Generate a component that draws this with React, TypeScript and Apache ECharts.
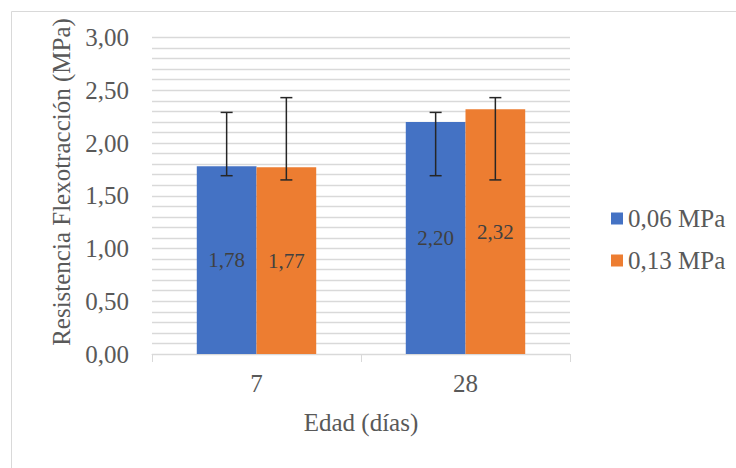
import React, { useEffect, useRef } from 'react';
import * as echarts from 'echarts';

const categories = ['7', '28'];
const seriesNames = ['0,06 MPa', '0,13 MPa'];
const values006 = [1.78, 2.2];
const values013 = [1.77, 2.32];
const errLow006 = [1.69, 1.69];
const errHigh006 = [2.29, 2.29];
const errLow013 = [1.65, 1.65];
const errHigh013 = [2.43, 2.43];
const yMin = 0;
const yMax = 3;
const yInterval = 0.5;
const xTitle = 'Edad (días)';
const yTitle = 'Resistencia Flexotracción (MPa)';

const FONT = '"Liberation Serif", "Times New Roman", serif';
const BLUE = '#4472C4';
const ORANGE = '#ED7D31';
const GRID = '#d9d9d9';
const TEXT = '#595959';

const fmt = (v: number) => v.toFixed(2).replace('.', ',');

const makeErr = (side: number, low: number[], high: number[]) => ({
  type: 'custom',
  name: 'err' + side,
  z: 10,
  data: categories.map((_, i) => [i, low[i], high[i]]),
  encode: { x: 0, y: [1, 2] },
  renderItem: (params: any, api: any) => {
    const cat = api.value(0);
    const lo = api.coord([cat, api.value(1)]);
    const hi = api.coord([cat, api.value(2)]);
    const catW = api.size([1, 0])[0];
    const barW = catW / 3.5;
    const x = lo[0] + side * barW / 2;
    const cap = 6;
    const style = { stroke: '#262626', lineWidth: 1.5 };
    return {
      type: 'group',
      children: [
        { type: 'line', shape: { x1: x, y1: hi[1], x2: x, y2: lo[1] }, style },
        { type: 'line', shape: { x1: x - cap, y1: hi[1], x2: x + cap, y2: hi[1] }, style },
        { type: 'line', shape: { x1: x - cap, y1: lo[1], x2: x + cap, y2: lo[1] }, style },
      ],
    };
  },
});

export default function App() {
  const ref = useRef<HTMLDivElement>(null);
  useEffect(() => {
    if (!ref.current) return;
    const chart = echarts.init(ref.current, undefined, { renderer: 'svg' });
    const barLabel = {
      show: true,
      position: 'inside',
      fontFamily: FONT,
      fontSize: 21,
      color: '#404040',
      formatter: (p: any) => fmt(p.value),
    };
    chart.setOption({
      animation: false,
      backgroundColor: '#ffffff',
      textStyle: { fontFamily: FONT },
      grid: { left: 152, right: 166, top: 37.5, bottom: 114, containLabel: false },
      legend: {
        data: seriesNames,
        orient: 'vertical',
        left: 611,
        top: 206,
        padding: 0,
        itemWidth: 12,
        itemHeight: 12,
        itemGap: 17,
        icon: 'rect',
        textStyle: { fontFamily: FONT, fontSize: 25, color: TEXT, lineHeight: 25 },
      },
      xAxis: {
        type: 'category',
        data: categories,
        name: xTitle,
        nameLocation: 'middle',
        nameGap: 56,
        nameTextStyle: { fontFamily: FONT, fontSize: 25, color: TEXT },
        axisLine: { lineStyle: { color: GRID, width: 1 } },
        axisTick: { show: true, length: 8, lineStyle: { color: GRID } },
        axisLabel: { fontFamily: FONT, fontSize: 25, color: TEXT, margin: 17 },
      },
      yAxis: {
        type: 'value',
        min: yMin,
        max: yMax,
        interval: yInterval,
        axisLine: { show: false },
        axisTick: { show: false },
        minorTick: { show: false, splitNumber: 5 },
        minorSplitLine: { show: true, lineStyle: { color: GRID, width: 1.3 } },
        splitLine: { show: true, lineStyle: { color: GRID, width: 1.3 } },
        axisLabel: {
          fontFamily: FONT,
          fontSize: 25,
          color: TEXT,
          margin: 23,
          formatter: (v: number) => fmt(v),
        },
      },
      graphic: [
        {
          type: 'rect',
          silent: true,
          shape: { x: 11.5, y: 11.5, width: 900, height: 700 },
          style: { fill: 'none', stroke: GRID, lineWidth: 1 },
        },
        {
          type: 'text',
          x: 61,
          y: 182,
          rotation: Math.PI / 2,
          style: {
            text: yTitle,
            font: `25px ${FONT}`,
            fill: TEXT,
            align: 'center',
            verticalAlign: 'middle',
          },
        },
      ],
      series: [
        {
          type: 'bar',
          name: seriesNames[0],
          data: values006,
          barWidth: '28.57%',
          barGap: '0%',
          itemStyle: { color: BLUE },
          label: barLabel,
        },
        {
          type: 'bar',
          name: seriesNames[1],
          data: values013,
          barWidth: '28.57%',
          barGap: '0%',
          itemStyle: { color: ORANGE },
          label: barLabel,
        },
        makeErr(-1, errLow006, errHigh006),
        makeErr(1, errLow013, errHigh013),
      ],
    });
    return () => chart.dispose();
  }, []);
  return (
    <div
      ref={ref}
      style={{ position: 'fixed', left: 0, top: 0, width: 736, height: 468 }}
    />
  );
}
